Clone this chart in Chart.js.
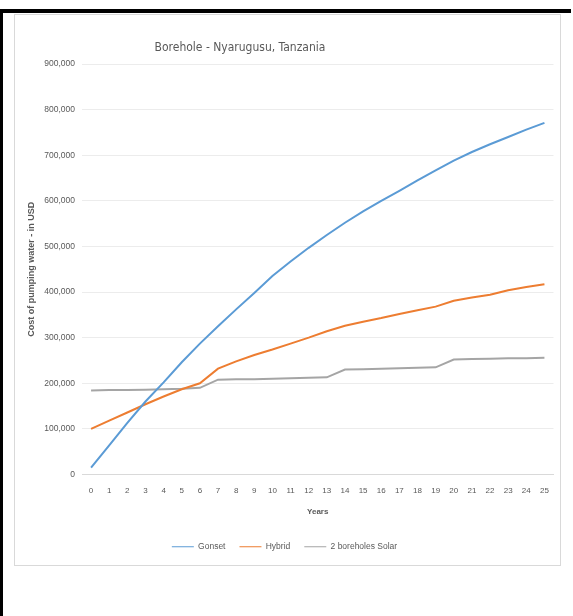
<!DOCTYPE html>
<html>
<head>
<meta charset="utf-8">
<script src="https://cdn.jsdelivr.net/npm/chart.js@4.4.1/dist/chart.umd.min.js"></script>
<style>
  html, body { margin: 0; padding: 0; background: #ffffff; }
  body { width: 573px; height: 616px; position: relative; overflow: hidden; }
  .edge-top { position: absolute; left: 0; top: 9px; width: 571px; height: 4px; background: #000; }
  .edge-left { position: absolute; left: 0; top: 9px; width: 3px; height: 607px; background: #000; }
  .frame { position: absolute; left: 14px; top: 14px; width: 547px; height: 552px;
           box-sizing: border-box; border: 1px solid #d9d9d9; background: #fff; }
  .frame canvas { display: block; }
</style>
</head>
<body>
<div class="edge-top"></div>
<div class="edge-left"></div>
<div class="frame"><canvas id="chart" width="545" height="550"></canvas></div>
<script>
// Cumulative cost of pumping water (USD) per year of operation
const years = ['0','1','2','3','4','5','6','7','8','9','10','11','12','13','14','15','16','17','18','19','20','21','22','23','24','25'];
const gonset = [15000, 64000, 113000, 160000, 202000, 246000, 287000, 325000, 362000, 398000, 435000, 467000, 497000, 525000, 552000, 577000, 600000, 622000, 645000, 667000, 688000, 707000, 724000, 740000, 756000, 771000];
const hybrid = [100000, 118000, 136000, 154000, 171000, 187000, 200000, 232000, 248000, 262000, 274000, 287000, 300000, 314000, 326000, 335000, 343000, 352000, 360000, 368000, 381000, 388000, 394000, 404000, 411000, 417000];
const solar = [184000, 185000, 185000, 186000, 187000, 188000, 190000, 208000, 209000, 209000, 210000, 211000, 212000, 213000, 230000, 231000, 232000, 233000, 234000, 235000, 252000, 253000, 254000, 255000, 255000, 256000];
const seriesNames = ['Gonset', 'Hybrid', '2 boreholes Solar'];
const yTicksMax = 900000;
const yTicksStep = 100000;

const textGrey = '#595959';
const sansNarrow = "'DejaVu Sans Condensed', 'Liberation Sans Narrow', sans-serif";
const sans = "'Liberation Sans', Arial, sans-serif";

// Chart heading, placed above the plot
const headingPlugin = {
  id: 'heading',
  afterDraw(chart) {
    const ctx = chart.ctx;
    ctx.save();
    ctx.fillStyle = textGrey;
    ctx.font = "12px " + sansNarrow;
    ctx.textAlign = 'center';
    ctx.textBaseline = 'middle';
    ctx.fillText('Borehole - Nyarugusu, Tanzania', 225, 33);
    ctx.restore();
  }
};

new Chart(document.getElementById('chart'), {
  type: 'line',
  data: {
    labels: years,
    datasets: [
      { label: seriesNames[0], data: gonset, borderColor: '#5b9bd5', backgroundColor: '#5b9bd5' },
      { label: seriesNames[1], data: hybrid, borderColor: '#ed7d31', backgroundColor: '#ed7d31' },
      { label: seriesNames[2], data: solar,  borderColor: '#a5a5a5', backgroundColor: '#a5a5a5' }
    ]
  },
  options: {
    responsive: false,
    animation: false,
    devicePixelRatio: 1,
    layout: { padding: { top: 49, right: 6, left: 0, bottom: 4 } },
    elements: {
      line: { borderWidth: 2, tension: 0 },
      point: { radius: 0, hoverRadius: 0 }
    },
    plugins: {
      title: { display: false },
      tooltip: { enabled: false },
      legend: {
        position: 'bottom',
        labels: {
          usePointStyle: true,
          pointStyle: 'line',
          pointStyleWidth: 22,
          padding: 14,
          color: textGrey,
          font: { family: sans, size: 8.5 }
        }
      }
    },
    scales: {
      x: {
        offset: true,
        grid: { display: false, drawTicks: false },
        border: { display: true, color: '#d9d9d9', width: 1 },
        ticks: { color: textGrey, font: { family: sans, size: 8 }, padding: 11, autoSkip: false, maxRotation: 0 },
        title: { display: true, text: 'Years', color: textGrey, font: { family: sans, size: 8, weight: 'bold' }, padding: { top: 4, bottom: 12 } },
        afterFit(scale) { scale.height = 54; }
      },
      y: {
        min: 0,
        max: yTicksMax,
        grid: { color: '#ececec', drawTicks: false },
        border: { display: false },
        ticks: {
          stepSize: yTicksStep,
          padding: 7,
          color: textGrey,
          font: { family: sans, size: 8.5 },
          callback: (v) => v.toLocaleString('en-US')
        },
        title: { display: true, text: 'Cost of pumping water - in USD', color: textGrey, font: { family: sans, size: 9, weight: 'bold' }, padding: { top: 11, bottom: 0 } },
        afterFit(scale) { scale.width = 67; }
      }
    }
  },
  plugins: [headingPlugin]
});
</script>
</body>
</html>
